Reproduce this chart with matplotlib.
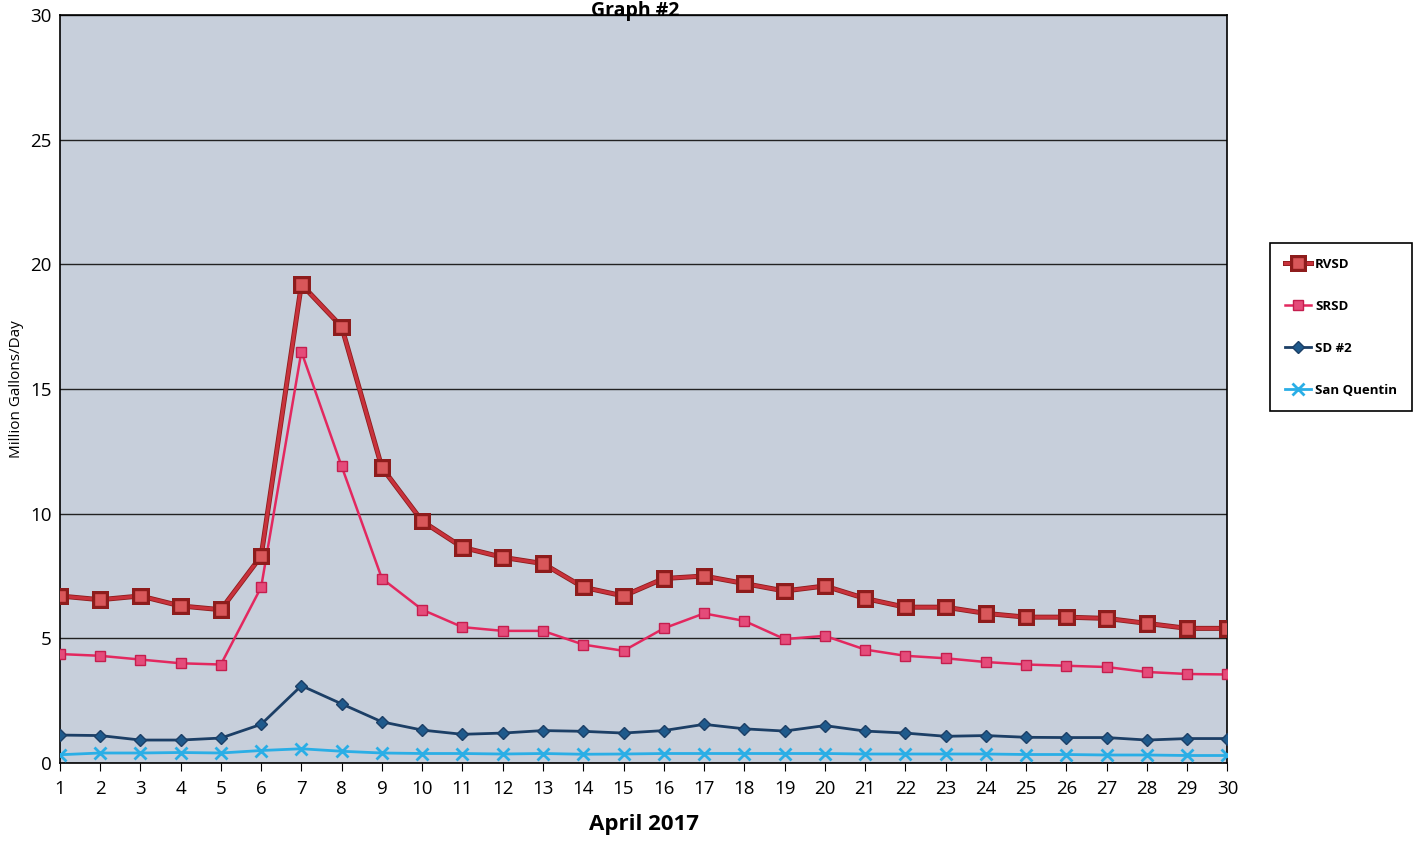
import matplotlib.pyplot as plt
import matplotlib.patheffects as pe

days = list(range(1, 31))

rvsd = [6.7, 6.55, 6.7, 6.3, 6.15, 8.3, 19.2, 17.5, 11.85, 9.7,
        8.65, 8.25, 8.0, 7.05, 6.7, 7.4, 7.5, 7.2, 6.9, 7.1,
        6.6, 6.25, 6.25, 6.0, 5.85, 5.85, 5.8, 5.6, 5.4, 5.4]
srsd = [4.37, 4.3, 4.15, 4.0, 3.95, 7.05, 16.5, 11.9, 7.4, 6.15,
        5.45, 5.3, 5.3, 4.75, 4.5, 5.4, 6.0, 5.7, 4.97, 5.1,
        4.55, 4.3, 4.2, 4.05, 3.95, 3.9, 3.85, 3.65, 3.57, 3.55]
sd2 = [1.12, 1.1, 0.92, 0.92, 1.0, 1.55, 3.1, 2.37, 1.65, 1.32,
       1.15, 1.2, 1.3, 1.27, 1.2, 1.3, 1.55, 1.37, 1.28, 1.5,
       1.28, 1.2, 1.07, 1.1, 1.03, 1.02, 1.02, 0.92, 0.98, 0.98]
san_quentin = [0.33, 0.4, 0.4, 0.42, 0.4, 0.5, 0.57, 0.47, 0.4, 0.38,
               0.38, 0.36, 0.38, 0.35, 0.36, 0.38, 0.38, 0.38, 0.38, 0.38,
               0.36, 0.36, 0.36, 0.36, 0.34, 0.34, 0.32, 0.32, 0.3, 0.3]

plt.rcParams['font.family'] = ['Open Sans', 'DejaVu Sans']

fig = plt.figure(figsize=(14.24, 8.44), dpi=100)
ax = fig.add_axes([0.042, 0.096, 0.82, 0.886])
ax.set_facecolor('#c7cfdb')

ax.plot(days, rvsd, color='#c8323c', lw=2.4, marker='s', markersize=9,
        markerfacecolor='#d9575a', markeredgecolor='#8e1c1c', markeredgewidth=1.0,
        path_effects=[pe.Stroke(linewidth=3.6, foreground='#8e1c1c'), pe.Normal()],
        label='RVSD', zorder=4)
ax.plot(days, srsd, color='#e3285f', lw=1.8, marker='s', markersize=7,
        markerfacecolor='#e54b7a', markeredgecolor='#c41e4e', label='SRSD', zorder=3)
ax.plot(days, sd2, color='#1c3f66', lw=2, marker='D', markersize=6,
        markerfacecolor='#1f5a8c', markeredgecolor='#1c3f66', label='SD #2', zorder=3)
ax.plot(days, san_quentin, color='#2aaee6', lw=2, marker='x', markersize=8,
        markeredgewidth=2, label='San Quentin', zorder=3)

ax.set_xlim(1, 30)
ax.set_ylim(0, 30)
ax.set_xticks(days)
ax.set_yticks(range(0, 31, 5))
ax.tick_params(axis='x', direction='out', length=6, labelsize=13.5, pad=6)
ax.tick_params(axis='y', length=0, labelsize=13.5, pad=6)
ax.yaxis.grid(True, color='#222222', lw=1)
ax.set_axisbelow(True)
for s in ax.spines.values():
    s.set_color('black')
    s.set_linewidth(1.2)

ax.set_ylabel('Million Gallons/Day', fontsize=11)
ax.set_xlabel('April 2017', fontsize=16, fontweight='bold', labelpad=12)

fig.text(0.446, 0.999, 'Graph #2', ha='center', va='top',
         fontsize=14, fontweight='bold')

leg = ax.legend(loc='center left', bbox_to_anchor=(0.892, 0.6125),
                bbox_transform=fig.transFigure, fontsize=9.5,
                labelspacing=2.2, handlelength=2.0, handletextpad=0.3,
                borderpad=1.1, borderaxespad=0,
                fancybox=False, framealpha=1, edgecolor='black')
leg.get_frame().set_linewidth(1.2)
for t in leg.get_texts():
    t.set_fontweight('bold')

fig.savefig('out.png', dpi=100)
